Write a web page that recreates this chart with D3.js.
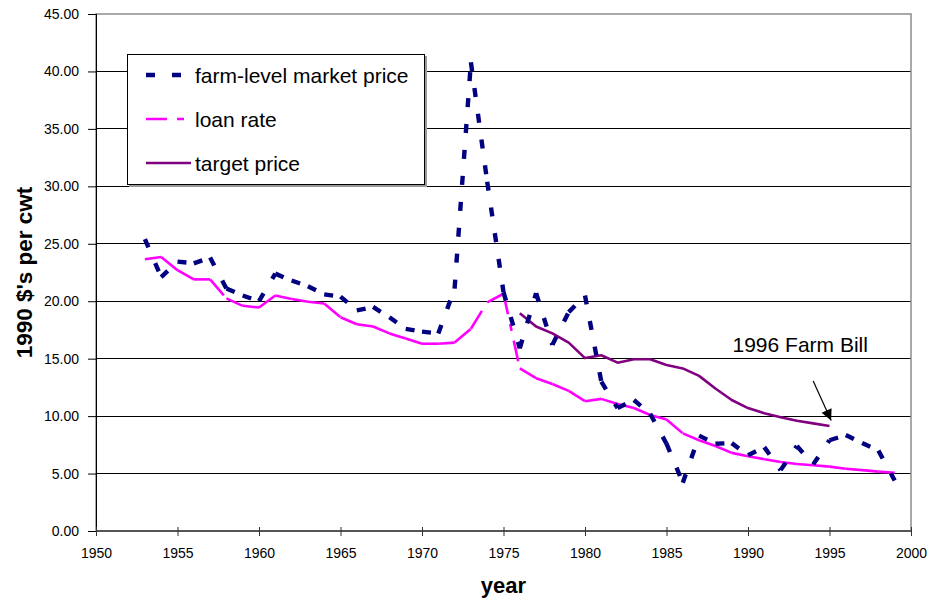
<!DOCTYPE html>
<html>
<head>
<meta charset="utf-8">
<script src="https://cdn.jsdelivr.net/npm/d3@7"></script>
<style>
  html, body { margin: 0; padding: 0; background: #fff; }
  svg { display: block; font-family: "Liberation Sans", Arial, sans-serif; }
</style>
</head>
<body>
<svg id="chart" width="930" height="600"></svg>
<script>
// ---------------- data ----------------
const years = d3.range(1953, 2000);           // 1953 .. 1999
const marketPrice = [25.4, 22.1, 23.45, 23.3, 23.8, 21.1, 20.5, 20.0, 22.4, 21.8,
  21.3, 20.6, 20.4, 19.2, 19.5, 18.6, 17.6, 17.35, 17.2, 21.1,
  40.8, 30.4, 20.8, 15.9, 20.7, 16.2, 19.05, 20.5, 13.0, 10.7,
  11.4, 10.2, 7.6, 4.2, 8.3, 7.6, 7.65, 6.6, 7.3, 5.3,
  7.4, 5.8, 7.9, 8.35, 7.65, 7.0, 4.4];
const loanRate = [23.65, 23.85, 22.7, 21.9, 21.9, 20.25, 19.6, 19.45, 20.5, 20.2,
  19.95, 19.8, 18.6, 18.0, 17.8, 17.2, 16.75, 16.3, 16.3, 16.4,
  17.6, 19.9, 20.65, 14.15, 13.3, 12.8, 12.2, 11.3, 11.5, 11.05,
  10.7, 10.1, 9.7, 8.5, 7.9, 7.4, 6.8, 6.5, 6.25, 6.0,
  5.83, 5.72, 5.6, 5.42, 5.3, 5.17, 5.07];
const targetYears = d3.range(1976, 1996);     // 1976 .. 1995
const targetPrice = [18.95, 17.8, 17.2, 16.4, 15.05, 15.3, 14.65, 14.95, 14.95, 14.45,
  14.15, 13.5, 12.4, 11.4, 10.7, 10.25, 9.9, 9.6, 9.37, 9.14];
const yTicks = [0, 5, 10, 15, 20, 25, 30, 35, 40, 45];
const xTicks = [1950, 1955, 1960, 1965, 1970, 1975, 1980, 1985, 1990, 1995, 2000];
const seriesNames = ["farm-level market price", "loan rate", "target price"];
const annotationText = "1996 Farm Bill";
const annotationAt = [1989.05, 15.6];
const arrowFrom = [1994.0, 13.05];
const arrowTo = [1995.1, 9.62];

// ---------------- layout ----------------
const svg = d3.select("#chart");
const L = 96, R = 911, T = 14, B = 531;
const x = d3.scaleLinear().domain([1950, 2000]).range([L, R]);
const y = d3.scaleLinear().domain([0, 45]).range([B, T]);

const colMarket = "#000080", colLoan = "#FF00FF", colTarget = "#800080";
const dashMarket = "9,17", dashLoan = "21,10,7,10";

// gridlines
svg.append("g").selectAll("line").data(yTicks.filter(v => v > 0 && v < 45)).join("line")
  .attr("x1", L).attr("x2", R)
  .attr("y1", d => y(d)).attr("y2", d => y(d))
  .attr("stroke", "#000").attr("stroke-width", 1).attr("shape-rendering", "crispEdges");

// plot border (top + right, grey)
svg.append("rect").attr("x", L).attr("y", T).attr("width", R - L).attr("height", B - T)
  .attr("fill", "none").attr("stroke", "#8c8c8c").attr("stroke-width", 1.5);

// y axis
const yAxis = svg.append("g").attr("transform", `translate(${L},0)`)
  .call(d3.axisLeft(y).tickValues(yTicks).tickSize(8).tickPadding(9).tickFormat(d3.format(".2f")));
yAxis.select(".domain").attr("stroke", "#000").attr("d", `M0.5,${T}V${B}`);
yAxis.selectAll(".tick line").attr("stroke", "#000");
yAxis.selectAll("text").attr("font-size", 14).attr("fill", "#000")
  .attr("font-family", "'Liberation Sans', Arial, sans-serif");

// x axis
const xAxis = svg.append("g").attr("transform", `translate(0,${B})`)
  .call(d3.axisBottom(x).tickValues(xTicks).tickSize(5).tickPadding(12).tickFormat(d3.format("d")));
xAxis.select(".domain").attr("stroke", "#555").attr("stroke-width", 2).attr("d", `M${L},0H${R}`);
xAxis.selectAll(".tick line").attr("stroke", "#333").attr("y1", -4);
xAxis.selectAll("text").attr("font-size", 14).attr("fill", "#000")
  .attr("font-family", "'Liberation Sans', Arial, sans-serif");

// axis titles
svg.append("text").attr("x", (L + R) / 2).attr("y", 593).attr("text-anchor", "middle")
  .attr("font-size", 22).attr("font-weight", "bold").text("year");
svg.append("text").attr("transform", `translate(32,${(T + B) / 2}) rotate(-90)`)
  .attr("text-anchor", "middle").attr("font-size", 22.5).attr("font-weight", "bold")
  .text("1990 $'s per cwt");

// helper: draw series as separate segments (dash pattern restarts at each point)
function segments(xs, vs) {
  const out = [];
  for (let i = 0; i < xs.length - 1; i++) out.push([[xs[i], vs[i]], [xs[i + 1], vs[i + 1]]]);
  return out;
}
const seg = d3.line().x(d => x(d[0])).y(d => y(d[1]));

// loan rate
svg.append("g").selectAll("path").data(segments(years, loanRate)).join("path")
  .attr("d", seg).attr("fill", "none").attr("stroke", colLoan).attr("stroke-width", 2.6)
  .attr("stroke-dasharray", dashLoan);

// target price
svg.append("path").datum(targetYears.map((yr, i) => [yr, targetPrice[i]]))
  .attr("d", seg).attr("fill", "none").attr("stroke", colTarget).attr("stroke-width", 2.6)
  .attr("stroke-linejoin", "round");

// market price
svg.append("g").selectAll("path").data(segments(years, marketPrice)).join("path")
  .attr("d", seg).attr("fill", "none").attr("stroke", colMarket).attr("stroke-width", 4.4)
  .attr("stroke-dasharray", dashMarket);

// annotation
svg.append("defs").append("marker").attr("id", "arrow")
  .attr("viewBox", "0 0 10 10").attr("refX", 10).attr("refY", 5)
  .attr("markerWidth", 13).attr("markerHeight", 11).attr("markerUnits", "userSpaceOnUse")
  .attr("orient", "auto")
  .append("path").attr("d", "M0,0L10,5L0,10Z").attr("fill", "#000");
svg.append("line")
  .attr("x1", x(arrowFrom[0])).attr("y1", y(arrowFrom[1]))
  .attr("x2", x(arrowTo[0])).attr("y2", y(arrowTo[1]))
  .attr("stroke", "#000").attr("stroke-width", 1.2).attr("marker-end", "url(#arrow)");
svg.append("text").attr("x", x(annotationAt[0])).attr("y", y(annotationAt[1]))
  .attr("font-size", 21).attr("fill", "#000").text(annotationText);

// legend
const lg = svg.append("g");
lg.append("rect").attr("x", 129).attr("y", 56).attr("width", 298).attr("height", 131)
  .attr("fill", "#9a9a9a");
lg.append("rect").attr("x", 127.5).attr("y", 54.5).attr("width", 297).attr("height", 130)
  .attr("fill", "#fff").attr("stroke", "#000").attr("stroke-width", 1);
const legendRows = [
  { name: seriesNames[0], color: colMarket, width: 4.4, dash: dashMarket, y: 75 },
  { name: seriesNames[1], color: colLoan, width: 2.6, dash: dashLoan, y: 119 },
  { name: seriesNames[2], color: colTarget, width: 2.6, dash: null, y: 163 }
];
legendRows.forEach(r => {
  lg.append("line").attr("x1", 146).attr("x2", 191).attr("y1", r.y).attr("y2", r.y)
    .attr("stroke", r.color).attr("stroke-width", r.width)
    .attr("stroke-dasharray", r.dash);
  lg.append("text").attr("x", 195).attr("y", r.y + 8).attr("font-size", 21)
    .attr("fill", "#000").text(r.name);
});
</script>
</body>
</html>
